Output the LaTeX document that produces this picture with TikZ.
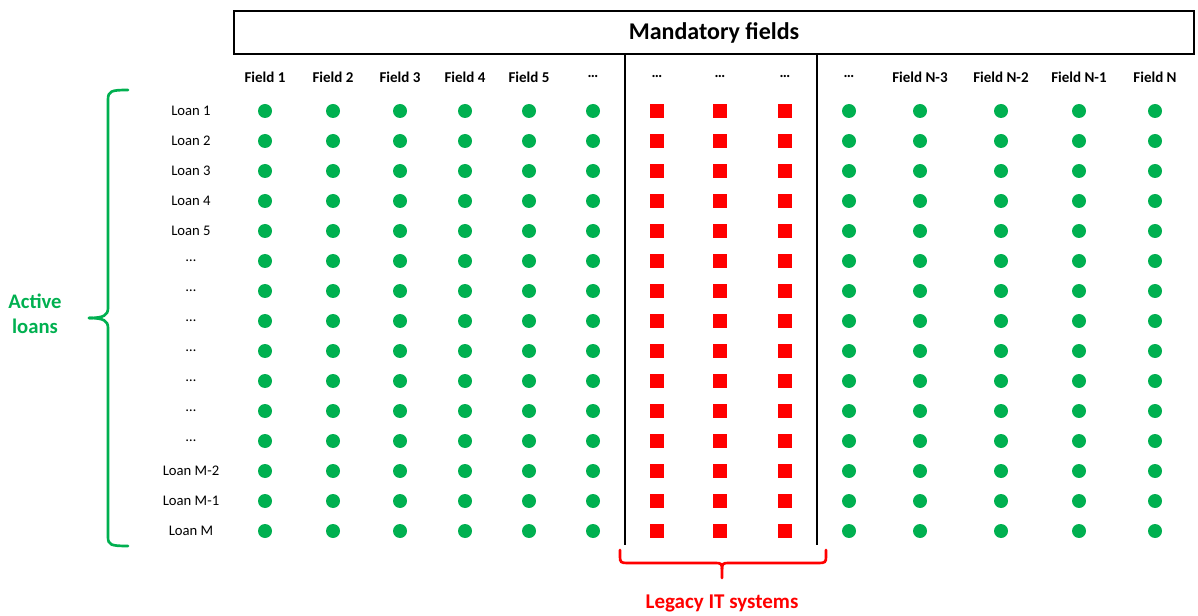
\documentclass[tikz,border=0pt]{standalone}
\usepackage{fontspec}
\setmainfont{Carlito}
\definecolor{okgreen}{HTML}{00B050}
\definecolor{okred}{HTML}{FF0000}
\begin{document}
\begin{tikzpicture}[x=0.75pt,y=-0.75pt,
  gdot/.style={circle,fill=okgreen,minimum size=10.5pt,inner sep=0pt},
  rsq/.style={rectangle,fill=okred,minimum size=10.5pt,inner sep=0pt},
  hdr/.style={font=\fontsize{11.25}{13}\selectfont\bfseries,inner sep=0pt},
  rowlab/.style={font=\fontsize{11}{13}\selectfont,inner sep=0pt},
  bigtitle/.style={draw=black,line width=1.5pt,minimum width=720pt,minimum height=32.25pt,inner sep=0pt,font=\fontsize{18}{21}\selectfont\bfseries},
  divider/.style={black,line width=1.1pt},
  bracelegacy/.style={okred,line width=2pt},
  braceactive/.style={okgreen,line width=2pt},
  redlabel/.style={text=okred,font=\fontsize{15.75}{18}\selectfont\bfseries,inner sep=0pt},
  greenlabel/.style={text=okgreen,font=\fontsize{15.5}{18.75}\selectfont\bfseries,align=center,inner sep=0pt}]
\useasboundingbox (0,0) rectangle (1198,616);

% title box
\node[bigtitle] (title) at (714,32.5) {Mandatory fields};

% column headers
\foreach \x/\t [count=\c] in {265/Field 1,333/Field 2,400/Field 3,465/Field 4,529/Field 5,593/…,657/…,720/…,785/…,849/…,920/Field N-3,1001/Field N-2,1079/Field N-1,1155/Field N}
  \node[hdr] (h-\c) at (\x,77) {\t};

% row labels
\foreach \y/\t [count=\r] in {111/Loan 1,141/Loan 2,171/Loan 3,201/Loan 4,231/Loan 5,261/…,291/…,321/…,351/…,381/…,411/…,441/…,471/Loan M-2,501/Loan M-1,531/Loan M}
  \node[rowlab] (l-\r) at (191,\y) {\t};

% green dots
\foreach \x/\c in {265/1,333/2,400/3,465/4,529/5,593/6,849/10,920/11,1001/12,1079/13,1155/14}
  \foreach \y [count=\r] in {111,141,...,531}
    \node[gdot] (d-\c-\r) at (\x,\y) {};

% red squares
\foreach \x/\c in {657/7,720/8,785/9}
  \foreach \y [count=\r] in {111,141,...,531}
    \node[rsq] (d-\c-\r) at (\x,\y) {};

% dividers
\coordinate (v1t) at (625,54);
\coordinate (v1b) at (625,545);
\coordinate (v2t) at (817,54);
\coordinate (v2b) at (817,545);
\draw[divider] (v1t) -- (v1b);
\draw[divider] (v2t) -- (v2b);

% legacy bracket
\coordinate (rb-l) at (620,550);
\coordinate (rb-r) at (826,550);
\coordinate (rb-tip) at (722,578);
\draw[bracelegacy,line cap=round] (rb-l) -- (620,557) .. controls (620,562) and (621,563) .. (627,563) -- (716,563) .. controls (721,563) and (722,564) .. (722,569) -- (rb-tip);
\draw[bracelegacy,line cap=round] (rb-r) -- (826,557) .. controls (826,562) and (825,563) .. (819,563) -- (728,563) .. controls (723,563) and (722,564) .. (722,569);
\node[redlabel] (legacy) at (722,603) {Legacy IT systems};

% active loans brace
\coordinate (gb-t) at (128,90);
\coordinate (gb-b) at (128,546);
\coordinate (gb-tip) at (89,318);
\draw[braceactive,line cap=round] (gb-t) .. controls (111,90) and (108,91) .. (108,100) -- (108,308) .. controls (108,315) and (104,318) .. (gb-tip);
\draw[braceactive,line cap=round] (gb-tip) .. controls (104,318) and (108,321) .. (108,328) -- (108,537) .. controls (108,545) and (111,546) .. (gb-b);
\node[greenlabel] (active) at (35,314) {Active\\loans};
\end{tikzpicture}
\end{document}
